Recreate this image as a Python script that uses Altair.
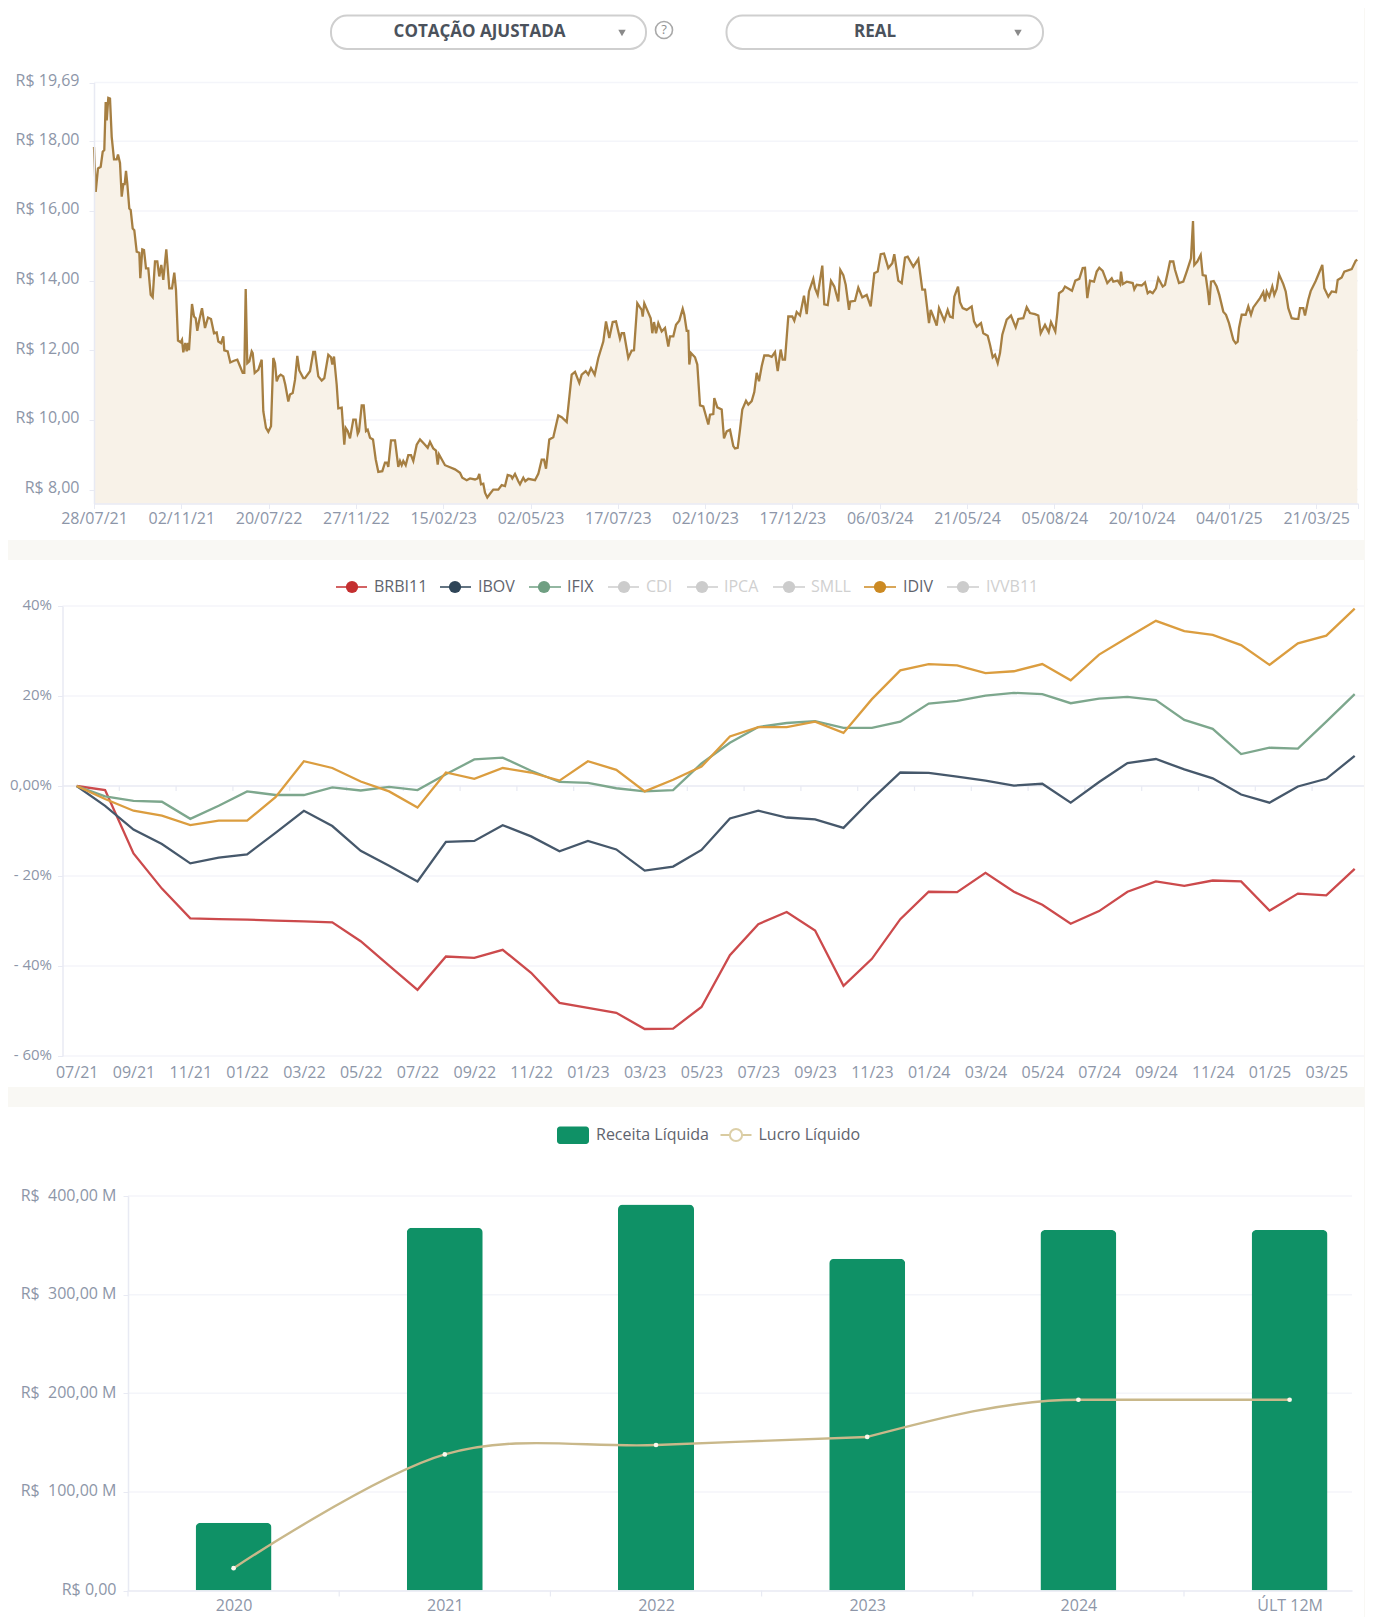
import altair as alt
import pandas as pd

FONT = "Open Sans"
PAGE = "#F9F8F4"
GRID = "#F4F5FA"
AXIS = "#E8EAF3"
LABEL = "#8D96A8"
ONE = pd.DataFrame({"a": [0]})
LEFT_EDGE = 8
PANEL_W = 1356
FS = 16

# ---------- panel 1: adjusted price ----------
price_dates = ["28/07/21","02/11/21","20/07/22","27/11/22","15/02/23","02/05/23","17/07/23","02/10/23",
               "17/12/23","06/03/24","21/05/24","05/08/24","20/10/24","04/01/25","21/03/25"]
price_step = 87.3
price_floor = 7.6
price_grid = [8, 10, 12, 14, 16, 18, 19.69]
price_idx = [0,1.7,4,6.7,8.7,10.3,11.7,12.7,14.3,16,17.7,20,22.7,24,26,27.7,29.3,30.7,32,33.3,35.3,36.7,38.7,40.3,42.7,45.3,46.3,48.3,50,52,54.3,56.7,58.7,61,63.3,65.3,67.3,69.3,72.3,75.3,78,80.3,82,84,86.7,88,89.3,91.3,92.7,94,95,98,100,101.7,103.3,105.3,108,111,114,117,120,122.7,124.3,127,129.3,130.3,133.7,136.3,140,143.3,146,148.7,150.3,151.7,153.3,155.3,157.7,158.7,160.7,164.3,167.7,169.3,172,174.3,177,179.3,181,182.7,184.7,186.7,189.3,191.3,194.3,196,198.7,201,203.3,205.3,209.3,
 211,216,219.3,221,224.3,227.7,230.3,234.3,237,238.3,240,242.7,244.3,247.7,250.3,251.7,253.7,256,259.3,261.7,263.7,265,267.7,269.7,272,273.7,276,279,281.7,284.3,288.3,291,293,294.3,297,301,304.3,306,307.7,309.3,311.7,314.3,317,319.3,322.7,326,330.3,333.7,336,339.3,342,343.7,345,347.7,351,356,361,366,368.3,372.7,376,381,383.7,385.3,387,389.3,391,393.3,396,399.3,404.3,407.7,411,413.7,417,418.3,421,424.3,
 426,429.3,431.3,434.3,441,444.3,447.7,450,452,455.3,459.3,464.3,467.7,472.7,477.7,481,485.3,487.7,491.7,494.3,497,500.7,504.3,509.3,512,515.3,518.7,522,526,527.7,530,534.3,537.7,540,543.3,546,547.7,548.7,550.3,552.7,556.7,558.3,560,562,564.3,567.7,571,574.3,576,579.3,582,585.3,588.7,590.3,592.7,594.3,595.3,597,601,603.3,606,609.3,614.3,616,619.3,620.3,623.3,627.7,630,632.7,636,639.3,
 641,643.7,646,648.3,652,654.3,657.7,660.3,662.7,665,667.7,670.3,674.3,677.7,681,683.7,686.7,688.7,691,694.3,698.3,700.3,702.7,706,710,712.7,715,719.3,721,723.7,728.3,730.3,733.7,737,740.3,744.3,746.3,749.3,751.7,755,756.3,761,764.3,768.3,772.7,776.7,780.3,783.7,786.7,790,794.3,798.3,800.3,804.3,807.7,811,813.7,819.3,824.3,828.3,831,835,836.7,840,842.7,845,850.3,853.7,
 856,858.7,860.3,864,866,868.7,872.7,877.7,880,882.7,887,889.3,893.7,896,898.7,901,903.7,906,908.3,912.7,917,921.7,924.3,929.3,932.7,936,941,944.3,946.7,951,954.7,957,961.3,963.3,965,968.7,971,978,981.3,985.3,988.7,991,993.3,996,1000,1002.7,1005.3,1008.7,1013.3,1017.7,1019.3,1023.7,1026,1027,1028.7,1032.7,1038.7,1040.3,1042.7,1047.7,1051,1053.7,1056,1058.7,1062,1064.3,1068.7,
 1071,1074.3,1076,1079.3,1081,1085,1089.3,1093.3,1097,1099,1100.3,1103.3,1106.7,1108.7,1111.7,1113.7,1115.3,1117,1119.7,1122.7,1125.3,1129.3,1132,1135,1139.3,1141.7,1143.7,1145,1147.7,1151.7,1154.3,1157,1159.3,1166,1169.3,1171,1172.7,1175.3,1178.3,1180.3,1182.7,1185,1189.3,1191.7,1194.3,1197.7,1201,1204.3,1206,1209.3,1211,1214.3,1216.7,1221.7,1228.3,1230.3,1234.3,1237.7,1242,1243.7,1247.7,1250.3,1257.7,1261.7,1263.3]
price_val = [17.84,16.55,17.22,17.27,17.70,17.75,19.13,18.6,19.25,19.23,18.13,17.48,17.48,17.62,17.38,16.41,16.77,16.77,17.15,16.79,16.07,16.03,15.5,15.45,14.83,14.8,14.07,14.9,14.88,14.35,14.35,13.59,13.52,14.55,14.55,14.12,14.45,14.02,14.9,13.78,13.78,14.23,13.73,12.28,12.23,12.3,11.94,12.21,11.97,12.21,12.0,13.33,12.97,12.92,12.56,12.87,13.21,12.64,12.94,12.9,12.49,12.51,12.25,12.2,12.4,12.0,11.97,11.65,11.7,11.73,11.54,11.35,11.35,13.76,11.63,11.68,11.97,11.92,11.35,11.44,11.73,10.25,9.77,9.66,9.82,11.78,11.63,11.11,11.25,11.3,11.25,11.01,10.53,10.73,10.77,11.15,11.84,11.42,11.2,
 11.2,11.4,11.95,11.95,11.25,11.13,11.2,11.87,11.8,11.59,11.82,11.01,10.33,10.35,9.29,9.77,9.68,9.47,10.01,10.01,9.6,9.68,10.42,10.42,9.68,9.72,9.49,9.44,8.87,8.51,8.53,8.77,8.77,8.65,9.41,9.41,8.65,8.82,8.7,8.82,8.7,8.99,8.99,8.82,9.29,9.44,9.31,9.2,9.37,9.18,9.12,8.72,9.01,8.87,8.7,8.64,8.58,8.48,8.34,8.27,8.32,8.29,8.32,8.45,8.15,8.17,7.91,7.77,7.88,8.0,8.0,8.13,8.1,8.42,8.39,8.32,8.45,8.24,
 8.15,8.34,8.24,8.31,8.27,8.45,8.86,8.86,8.6,9.44,9.5,10.13,10.08,9.94,11.3,11.38,11.06,11.3,11.4,11.3,11.49,11.3,11.78,12.25,12.83,12.35,12.81,12.83,12.33,12.49,12.49,11.78,11.99,12.0,13.35,13.23,13.16,12.97,13.35,13.19,12.92,12.49,12.81,12.49,12.78,12.54,12.64,12.11,12.4,12.4,12.73,12.85,13.19,13.02,12.56,12.56,11.59,11.92,11.8,11.59,10.42,10.39,9.87,10.15,10.17,10.63,10.36,10.3,9.47,9.67,9.72,9.25,
 9.18,9.2,9.72,10.3,10.55,10.44,10.54,10.8,11.35,11.11,11.54,11.85,11.85,11.81,11.95,11.4,12.02,11.73,11.73,12.97,12.97,12.85,13.1,13.0,13.57,13.04,13.69,14.05,13.78,13.59,14.43,13.32,13.3,13.99,13.83,13.4,14.31,14.16,13.88,13.16,13.4,13.42,13.8,13.52,13.59,13.26,14.21,14.26,14.76,14.78,14.36,14.5,14.76,14.0,13.93,14.66,14.69,14.4,14.62,13.74,13.74,12.78,13.16,12.92,12.71,13.21,12.85,13.16,
 12.97,12.94,13.54,13.83,13.38,13.21,13.16,13.26,12.83,12.68,12.78,12.49,12.42,12.16,11.8,11.87,11.63,11.92,12.45,12.88,13.0,12.66,12.9,12.92,13.24,13.07,13.04,13.0,12.49,12.73,12.52,12.81,12.54,13.07,13.64,13.71,13.83,13.71,14.0,14.05,14.36,14.37,13.5,14.0,13.97,14.26,14.37,14.28,13.93,14.07,13.97,14.0,13.9,14.26,13.9,13.97,13.93,13.75,13.88,13.86,13.95,13.64,13.69,13.64,13.78,14.07,13.83,
 13.88,14.31,14.55,14.55,14.31,13.93,13.97,14.31,14.64,15.71,14.45,14.55,14.74,14.16,14.14,13.73,13.3,13.97,13.99,13.83,13.59,13.11,13.02,12.78,12.3,12.2,12.25,12.64,13.02,13.02,13.26,13.02,13.23,13.5,13.67,13.4,13.69,13.54,13.83,13.59,13.76,14.18,13.9,13.69,13.21,12.92,12.9,12.9,13.21,13.21,13.0,13.45,13.7,13.99,14.45,13.78,13.54,13.69,13.67,14.02,14.09,14.26,14.33,14.57,14.6]
n = min(len(price_idx), len(price_val))
price_df = pd.DataFrame({"i": price_idx[:n], "p": price_val[:n], "b": price_floor})

# ---------- panel 2: returns ----------
ret_months = ["07/21","08/21","09/21","10/21","11/21","12/21","01/22","02/22","03/22","04/22","05/22","06/22","07/22","08/22","09/22","10/22",
              "11/22","12/22","01/23","02/23","03/23","04/23","05/23","06/23","07/23","08/23","09/23","10/23","11/23","12/23","01/24","02/24",
              "03/24","04/24","05/24","06/24","07/24","08/24","09/24","10/24","11/24","12/24","01/25","02/25","03/25","04/25"]
brbi = [0,-0.9,-15,-22.8,-29.4,-29.6,-29.7,-29.9,-30.1,-30.3,-34.5,-39.9,-45.3,-37.9,-38.2,-36.4,-41.5,-48.2,-49.3,-50.4,-54,-53.9,-49.1,-37.6,-30.7,-28,-32.1,-44.4,-38.4,-29.6,-23.5,-23.6,-19.3,-23.5,-26.4,-30.6,-27.8,-23.5,-21.2,-22.2,-21,-21.2,-27.7,-23.9,-24.3,-18.4]
ibov = [0,-4.4,-9.7,-12.9,-17.2,-15.9,-15.2,-10.4,-5.5,-8.9,-14.4,-17.7,-21.2,-12.4,-12.2,-8.7,-11.2,-14.5,-12.2,-14.1,-18.8,-17.9,-14.2,-7.2,-5.5,-7,-7.4,-9.3,-2.9,3.0,2.9,2.1,1.2,0.1,0.5,-3.7,0.9,5.1,6,3.7,1.7,-1.9,-3.7,-0.1,1.6,6.7]
ifix = [0,-2.3,-3.3,-3.5,-7.3,-4.4,-1.2,-2,-2,-0.3,-1,-0.2,-0.9,2.6,5.9,6.3,3.4,0.9,0.7,-0.5,-1.2,-0.9,5,9.6,13.1,14,14.4,12.9,12.9,14.3,18.3,18.9,20.1,20.7,20.4,18.4,19.4,19.8,19.1,14.7,12.7,7.1,8.5,8.3,14.3,20.4]
idiv = [0,-2.9,-5.5,-6.6,-8.7,-7.7,-7.7,-2.5,5.5,4,1,-1.2,-4.8,3,1.6,4,3,1.2,5.5,3.6,-1.2,1.4,4.3,11,13.1,13.1,14.3,11.8,19.3,25.7,27.1,26.8,25.1,25.5,27.1,23.5,29.2,33,36.7,34.4,33.6,31.3,26.9,31.7,33.4,39.4]
ret_series = {"BRBI11": brbi, "IBOV": ibov, "IFIX": ifix, "IDIV": idiv}
ret_colors = {"BRBI11": "#CC4A4C", "IBOV": "#46586B", "IFIX": "#7DA78D", "IDIV": "#DB9D3F"}
ret_grid = [-60, -40, -20, 0, 20, 40]
ret_df = pd.DataFrame([{"i": k, "v": v, "s": s} for s, vals in ret_series.items() for k, v in enumerate(vals)])

ret_legend = [("BRBI11", 336, 367, 352, 374, "#C42F30", "#5F646E"), ("IBOV", 440, 471, 455, 478, "#2F4558", "#5F646E"),
              ("IFIX", 529, 561, 544, 567, "#6F9F82", "#5F646E"), ("CDI", 608, 639, 624, 646, "#CCCCCC", "#D0D0D0"),
              ("IPCA", 687, 718, 702, 724, "#CCCCCC", "#D0D0D0"), ("SMLL", 773, 805, 789, 811, "#CCCCCC", "#D0D0D0"),
              ("IDIV", 864, 896, 880, 903, "#CC8A22", "#5F646E"), ("IVVB11", 947, 979, 963, 986, "#CCCCCC", "#D0D0D0")]

# ---------- panel 3: revenue / profit ----------
fin_years = ["2020", "2021", "2022", "2023", "2024", "ÚLT 12M"]
receita = [68.7, 367.7, 391.3, 336.3, 365.4, 365.4]
lucro = [22.6, 138, 147.5, 155.7, 193.4, 193.4]
fin_grid = [0, 100, 200, 300, 400]
fin_df = pd.DataFrame({"i": range(6), "r": receita, "l": lucro})
fin_ticks = pd.DataFrame({"i": [-0.5, 0.5, 1.5, 2.5, 3.5, 4.5]})


class Panel:
    """One white card; all helpers take page coordinates."""
    def __init__(self, top, bottom):
        self.top, self.bottom = top, bottom
        self.h = bottom - top
        self.layers = [alt.Chart(ONE).mark_rect(fill="white").encode(
            x=alt.value(0), x2=alt.value(PANEL_W), y=alt.value(0), y2=alt.value(self.h))]

    def X(self, v):
        return v - LEFT_EDGE

    def Y(self, v):
        return v - self.top

    def text(self, txt, x, y, color, size=FS, weight=400, align="left"):
        self.layers.append(alt.Chart(ONE).mark_text(text=txt, font=FONT, fontSize=size, fontWeight=weight, color=color,
                                                    align=align, baseline="middle").encode(x=alt.value(self.X(x)), y=alt.value(self.Y(y))))

    def rect(self, x0, x1, y0, y1, **kw):
        self.layers.append(alt.Chart(ONE).mark_rect(**kw).encode(x=alt.value(self.X(x0)), x2=alt.value(self.X(x1)),
                                                                 y=alt.value(self.Y(y0)), y2=alt.value(self.Y(y1))))

    def hline(self, x0, x1, y, **kw):
        self.layers.append(alt.Chart(ONE).mark_rule(**kw).encode(x=alt.value(self.X(x0)), x2=alt.value(self.X(x1)), y=alt.value(self.Y(y))))

    def point(self, x, y, **kw):
        self.layers.append(alt.Chart(ONE).mark_point(opacity=1, **kw).encode(x=alt.value(self.X(x)), y=alt.value(self.Y(y))))

    def chart(self):
        return alt.layer(*self.layers).properties(width=PANEL_W, height=self.h)


def y_axis(values, expr, pad, left, lift, size=FS):
    return alt.Axis(values=values, labelExpr=expr, title=None, grid=False, domain=True, domainColor=AXIS, domainWidth=1.5,
                    ticks=True, tickColor=AXIS, tickSize=5, labelColor=LABEL, labelFont=FONT, labelFontSize=size,
                    labelPadding=pad, labelOverlap=False, labelOffset=lift, zindex=1, offset=-(left - LEFT_EDGE))


# ---------- panel 1 assembly ----------
P = Panel(8, 540)
L, R, T, B = 94, 1358, 82.5, 503.5
xs = alt.Scale(domain=[0, R - L], range=[P.X(L), P.X(R)], nice=False, zero=False)
ys = alt.Scale(domain=[price_floor, 19.69], range=[P.Y(B), P.Y(T)], nice=False, zero=False)
x_ticks = [round(i * price_step, 1) for i in range(len(price_dates))] + [R - L]
x_expr = "datum.value > %d ? '' : (%s)[round(datum.value/%s)]" % (R - L - 5, str(price_dates), price_step)
y_expr = "'R$ ' + replace(format(datum.value,'.2f'),'.',',')"
xa = alt.Axis(values=x_ticks, labelExpr=x_expr, title=None, grid=False, domainColor=AXIS, domainWidth=1.5, tickColor=AXIS, tickSize=5,
              labelColor=LABEL, labelFont=FONT, labelFontSize=FS, labelPadding=2, labelOverlap=False, labelFlush=False, zindex=1,
              offset=-(P.bottom - B))
ya = y_axis(price_grid, y_expr, 10, L, -2)

P.rect(331, 646, 15.5, 49, fill="white", stroke="#CFCFCF", strokeWidth=2, cornerRadius=16)
P.text("COTAÇÃO AJUSTADA", 479.5, 32, "#4B525C", 17, 700, "center")
P.point(622, 33, shape="triangle-down", filled=True, color="#8A8A8A", size=55)
P.point(664, 30, shape="circle", filled=False, color="#A9A9A9", size=290, strokeWidth=1.6)
P.text("?", 664, 30, "#8E8E8E", 13, 400, "center")
P.rect(726.5, 1043, 15.5, 49, fill="white", stroke="#CFCFCF", strokeWidth=2, cornerRadius=16)
P.text("REAL", 875, 32, "#4B525C", 17, 700, "center")
P.point(1018, 33, shape="triangle-down", filled=True, color="#8A8A8A", size=55)
P.layers += [
    alt.Chart(pd.DataFrame({"g": price_grid})).mark_rule(color=GRID, strokeWidth=1.5).encode(
        x=alt.value(P.X(L)), x2=alt.value(P.X(R)), y=alt.Y("g:Q", scale=ys, axis=ya)),
    alt.Chart(price_df).mark_area(color="#F8F2E8", opacity=1, interpolate="linear").encode(
        x=alt.X("i:Q", scale=xs, axis=xa), y=alt.Y("p:Q", scale=ys, axis=ya), y2="b:Q"),
    alt.Chart(price_df).mark_line(color="#A67F42", strokeWidth=2.3, interpolate="linear").encode(
        x=alt.X("i:Q", scale=xs, axis=xa), y=alt.Y("p:Q", scale=ys, axis=ya)),
]
p1 = P.chart()

# ---------- panel 2 assembly ----------
P = Panel(560, 1087)
L, R, T, B = 62.5, 1364, 606, 1056
xs = alt.Scale(domain=[-0.5, -0.5 + (R - L) / 28.4], range=[P.X(L), P.X(R)], nice=False, zero=False)
ys = alt.Scale(domain=[-60, 40], range=[P.Y(B), P.Y(T)], nice=False, zero=False)
x_expr = "(%s)[datum.value]" % str(ret_months)
y_expr = "datum.value == 0 ? '0,00%' : datum.value < 0 ? '- ' + abs(datum.value) + '%' : datum.value + '%'"
ret_tick_df = pd.DataFrame({"i": [k - 0.5 for k in range(2, 46, 2)]})
xa = alt.Axis(values=list(range(0, 46, 2)), labelExpr=x_expr, title=None, grid=False, domain=False, ticks=False, labelColor=LABEL,
              labelFont=FONT, labelFontSize=FS, labelPadding=8, labelOverlap=False, labelFlush=False, zindex=1, offset=-(P.bottom - B))
ya = y_axis(ret_grid, y_expr, 6, L, -2, 15)
for name, lx0, lx1, cx, tx, col, tcol in ret_legend:
    P.hline(lx0, lx1, 587, color=col, strokeWidth=2, opacity=0.75)
    P.point(cx, 587, shape="circle", filled=True, color=col, size=150)
    P.text(name, tx, 587, tcol)
P.layers += [
    alt.Chart(pd.DataFrame({"g": [g for g in ret_grid if g != 0]})).mark_rule(color=GRID, strokeWidth=1.5).encode(
        x=alt.value(P.X(L)), x2=alt.value(P.X(R)), y=alt.Y("g:Q", scale=ys, axis=ya)),
    alt.Chart(pd.DataFrame({"g": [0]})).mark_rule(color=AXIS, strokeWidth=1.5).encode(
        x=alt.value(P.X(L)), x2=alt.value(P.X(R)), y=alt.Y("g:Q", scale=ys, axis=ya)),
    alt.Chart(ret_tick_df).mark_rule(color=AXIS, strokeWidth=1.2).encode(
        x=alt.X("i:Q", scale=xs, axis=xa), y=alt.value(P.Y(786)), y2=alt.value(P.Y(791))),
]
for s in ["BRBI11", "IBOV", "IFIX", "IDIV"]:
    P.layers.append(alt.Chart(ret_df[ret_df.s == s]).mark_line(color=ret_colors[s], strokeWidth=2.3).encode(
        x=alt.X("i:Q", scale=xs, axis=xa), y=alt.Y("v:Q", scale=ys, axis=ya)))
p2 = P.chart()

# ---------- panel 3 assembly ----------
P = Panel(1107, 1617)
L, R, T, B = 128, 1352, 1196, 1590.5
xs = alt.Scale(domain=[-0.5, -0.5 + (R - L) / 211.2], range=[P.X(L), P.X(R)], nice=False, zero=False, padding=0)
ys = alt.Scale(domain=[0, 400], range=[P.Y(B), P.Y(T)], nice=False)
x_expr = "(%s)[datum.value]" % str(fin_years)
y_expr = "datum.value == 0 ? 'R$ 0,00' : 'R$\u00a0\u00a0' + replace(format(datum.value,'.2f'),'.',',') + ' M'"
xa = alt.Axis(values=list(range(6)), labelExpr=x_expr, title=None, grid=False, domainColor=AXIS, domainWidth=1.5, ticks=False,
              labelColor=LABEL, labelFont=FONT, labelFontSize=FS, labelPadding=7, labelOverlap=False, labelFlush=False, zindex=1,
              offset=-(P.bottom - B))
ya = y_axis(fin_grid, y_expr, 7, L, -1)
P.rect(557, 589, 1126.5, 1144, fill="#0F9166", cornerRadius=3)
P.text("Receita Líquida", 596, 1135, "#5F646E")
P.hline(720.5, 751.5, 1135, color="#D9CBA0", strokeWidth=2)
P.point(736, 1135, shape="circle", filled=True, fill="white", stroke="#DCCFA8", strokeWidth=2, size=150)
P.text("Lucro Líquido", 758.5, 1135, "#5F646E")
P.layers += [
    alt.Chart(pd.DataFrame({"g": [g for g in fin_grid if g != 0]})).mark_rule(color=GRID, strokeWidth=1.5).encode(
        x=alt.value(P.X(L)), x2=alt.value(P.X(R)), y=alt.Y("g:Q", scale=ys, axis=ya)),
    alt.Chart(fin_ticks).mark_rule(color=AXIS, strokeWidth=1.2).encode(
        x=alt.X("i:Q", scale=xs, axis=xa), y=alt.value(P.Y(B)), y2=alt.value(P.Y(B + 6))),
    alt.Chart(fin_df).mark_bar(color="#0F9166", size=76, cornerRadiusTopLeft=5, cornerRadiusTopRight=5).encode(
        x=alt.X("i:Q", scale=xs, axis=xa), y=alt.Y("r:Q", scale=ys, axis=ya)),
    alt.Chart(fin_df.iloc[:4]).mark_line(color="#C9B88A", strokeWidth=2.4, interpolate="cardinal").encode(
        x=alt.X("i:Q", scale=xs, axis=xa), y=alt.Y("l:Q", scale=ys, axis=ya)),
    alt.Chart(fin_df.iloc[3:]).mark_line(color="#C9B88A", strokeWidth=2.4, interpolate="monotone").encode(
        x=alt.X("i:Q", scale=xs, axis=xa), y=alt.Y("l:Q", scale=ys, axis=ya)),
    alt.Chart(fin_df).mark_point(shape="circle", filled=True, color="#FBF8EE", size=22, opacity=1).encode(
        x=alt.X("i:Q", scale=xs, axis=xa), y=alt.Y("l:Q", scale=ys, axis=ya)),
]
p3 = P.chart()

chart = alt.vconcat(p1, p2, p3, spacing=20).properties(background=PAGE, padding=0).configure_view(stroke=None)
chart.save("out.html", embed_options={"renderer": "svg", "actions": False})
